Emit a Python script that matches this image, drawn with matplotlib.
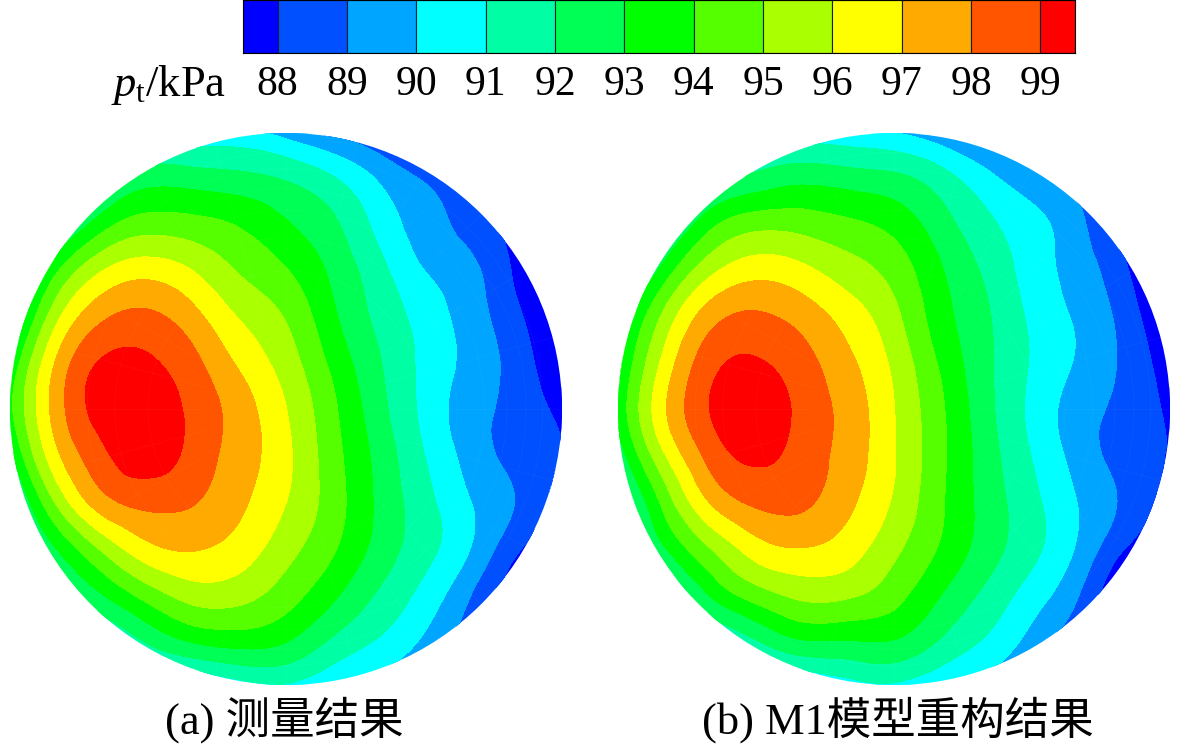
import numpy as np
import matplotlib
matplotlib.use('Agg')
import matplotlib.pyplot as plt
import matplotlib.tri as mtri
from matplotlib.patches import Circle

# total pressure in kPa on a 46 px grid (top row first)
measured = [
    [90, 90, 90, 90.5, 90.3, 90.3, 89.6, 88.8, 88, 87, 87, 87, 86.5],
    [90, 90, 91.5, 92.6, 92.5, 92.3, 91.9, 91.1, 89.9, 88.9, 88, 87, 86.5],
    [90, 91.5, 93.55, 94.5, 94.35, 93.9, 93.1, 92.2, 90.7, 89.5, 88.6, 87.5, 86.5],
    [90.5, 93.8, 95.95, 96.6, 95.95, 94.9, 94.05, 92.78, 91.35, 90, 89.25, 87.8, 86.5],
    [91.5, 95.64, 97.8, 98.2, 97.3, 95.9, 94.9, 93.2, 91.75, 90.56, 89.52, 88.2, 86.8],
    [93, 97.05, 99.1, 99.15, 98.25, 96.8, 95.5, 93.75, 92.1, 90.74, 89.68, 88.55, 87.05],
    [93.7, 97.4, 99.4, 99.6, 98.7, 97.47, 96, 94.2, 92.36, 90.73, 89.45, 88.63, 87.7],
    [92.7, 96.7, 98.75, 99.5, 98.6, 97.5, 96.2, 94.4, 92.68, 91, 89.6, 88.6, 88],
    [91.2, 95.1, 97.6, 98.3, 98.05, 97.2, 96, 94.5, 92.8, 91.34, 90, 88.95, 87.5],
    [90.5, 93, 95.2, 96.75, 97.1, 96.56, 95.4, 94.15, 92.65, 91.37, 90, 88.2, 87],
    [90, 91.5, 93, 94.5, 95.5, 95.4, 94.5, 93.25, 91.9, 90.68, 89.05, 87.3, 86.5],
    [90, 90.5, 91, 92.2, 93.2, 93.5, 93.1, 91.9, 90.95, 89.85, 88.3, 87, 86.5],
    [90, 90, 90, 90, 90, 90.6, 90.9, 90.2, 89.6, 88.5, 87, 87, 86.5],
]
rebuilt = [
    [90, 90, 90, 90.5, 90.5, 90.3, 90, 89.3, 88.5, 88, 87, 87, 86.5],
    [90, 90, 91.5, 92.3, 92.7, 92.5, 92.25, 91.45, 90.3, 89.4, 88.5, 87, 86.5],
    [90, 91.5, 93.7, 94.65, 94.6, 94.2, 93.65, 92.45, 91.25, 90.32, 89.27, 87.5, 86.5],
    [90.5, 93.35, 95.7, 96.6, 96.25, 95.45, 94.6, 93.1, 91.8, 90.53, 89.54, 88.16, 86.3],
    [92.1, 95.2, 97.55, 98.15, 97.6, 96.55, 95.25, 93.43, 92.12, 90.78, 89.84, 88.6, 86.75],
    [92.8, 96.25, 98.62, 99.1, 98.38, 97.22, 95.75, 93.85, 92.22, 90.89, 89.87, 88.79, 87.4],
    [93.2, 96.8, 99, 99.6, 98.7, 97.6, 96, 94.17, 92.3, 90.74, 89.5, 88.67, 87.8],
    [92.3, 95.85, 98.32, 99.2, 98.58, 97.55, 96.05, 94.24, 92.47, 90.94, 89.58, 88.55, 87.95],
    [91, 94.3, 97.05, 98.2, 98.2, 97.23, 95.85, 94.15, 92.58, 91.25, 89.95, 88.8, 87.5],
    [90, 92.9, 95, 96.55, 97, 96.49, 95.25, 93.9, 92.5, 91.27, 89.85, 88.05, 87],
    [90, 91, 93.1, 94.55, 95.3, 95.2, 94.4, 93.05, 91.77, 90.53, 89.05, 87, 86.5],
    [90, 90.5, 91, 92, 93, 93.05, 93, 91.95, 90.9, 89.65, 88.2, 87, 86.5],
    [90, 90, 90, 90, 90, 90.6, 90.85, 90.2, 89.6, 88.5, 87, 87, 86.5],
]
tick_levels = [88, 89, 90, 91, 92, 93, 94, 95, 96, 97, 98, 99]
band_colors = ['#0000ff', '#0050ff', '#00a5ff', '#00ffff', '#00ffa5', '#00ff55', '#00ff00',
               '#55ff00', '#aaff00', '#ffff00', '#ffaa00', '#ff5500', '#ff0000']

W, H = 1181, 750
R = 276
plt.rcParams['mathtext.fontset'] = 'custom'
plt.rcParams['mathtext.rm'] = 'Liberation Serif'
plt.rcParams['mathtext.it'] = 'Liberation Serif:italic'
serif = ['Liberation Serif', 'Noto Sans CJK SC']


def draw_disk(fig, cx, cy, values):
    ax = fig.add_axes([(cx - R) / W, 1 - (cy + R) / H, 2 * R / W, 2 * R / H])
    grid = np.linspace(-R, R, len(values))
    gx, gy = np.meshgrid(grid, grid)
    tri = mtri.Triangulation(gx.ravel(), gy.ravel())
    # smooth the contours with matplotlib's own refiner
    refiner = mtri.UniformTriRefiner(tri)
    fine_tri, fine_z = refiner.refine_field(np.array(values).ravel(), subdiv=3)
    levels = [80] + tick_levels + [110]
    cs = ax.tricontourf(fine_tri, fine_z, levels=levels, colors=band_colors)
    cs.set_edgecolor('face')
    clip = Circle((0, 0), R, transform=ax.transData)
    cs.set_clip_path(clip)
    # faint mesh of the measuring plane
    t = np.linspace(0, 2 * np.pi, 181)
    for r in [0.5, 0.62, 0.72, 0.8, 0.87, 0.93]:
        ax.plot(R * r * np.cos(t), R * r * np.sin(t), color='white', lw=0.5, alpha=0.05)
    for a in np.arange(0, 360, 15):
        a = np.radians(a)
        ax.plot([0.3 * R * np.cos(a), R * np.cos(a)], [0.3 * R * np.sin(a), R * np.sin(a)],
                color='white', lw=0.5, alpha=0.05)
    ax.set_xlim(-R, R)
    ax.set_ylim(R, -R)
    ax.set_aspect('equal')
    ax.axis('off')


fig = plt.figure(figsize=(W / 100, H / 100), dpi=100)
draw_disk(fig, 286, 409, measured)
draw_disk(fig, 894, 409, rebuilt)

# colour bar
cax = fig.add_axes([243 / W, 1 - 53 / H, 832 / W, 53 / H])
edges = [87.5] + tick_levels + [99.5]
for i in range(len(band_colors)):
    cax.axvspan(edges[i], edges[i + 1], facecolor=band_colors[i], edgecolor='#102030', lw=0.8)
cax.set_xlim(87.5, 99.5)
cax.set_ylim(0, 1)
cax.set_yticks([])
cax.set_xticks(tick_levels)
cax.set_xticklabels(tick_levels, family=serif, fontsize=30)
cax.tick_params(axis='x', length=0, pad=9)
for s in cax.spines.values():
    s.set_linewidth(0.8)

fig.text(111 / W, 1 - 96 / H, r'$p_{\mathrm{t}}$/kPa', family=serif, fontsize=32, va='baseline')
fig.text(165 / W, 1 - 734 / H, '(a) 测量结果', family=serif, fontsize=32, va='baseline')
fig.text(702 / W, 1 - 734 / H, '(b) M1模型重构结果', family=serif, fontsize=32, va='baseline')

fig.savefig('out.png', dpi=100)
